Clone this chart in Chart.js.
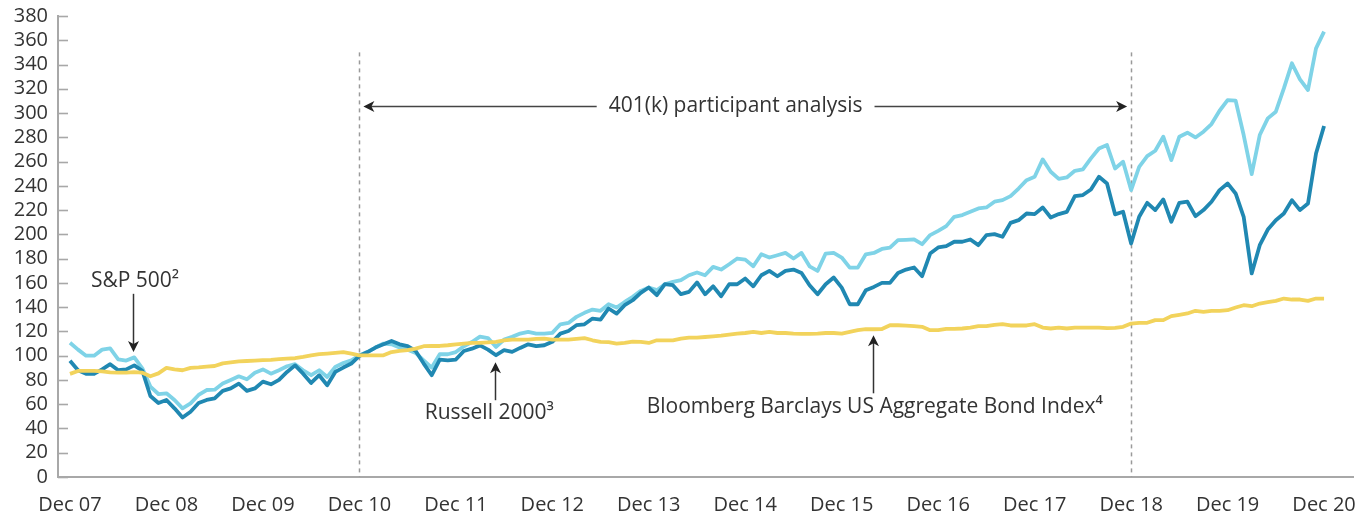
<!DOCTYPE html>
<html><head><meta charset="utf-8">
<script src="https://cdn.jsdelivr.net/npm/chart.js@4.4.1/dist/chart.umd.min.js"></script>
<style>html,body{margin:0;padding:0;background:#fff;}canvas{display:block;}</style>
</head><body>
<canvas id="c" width="1364" height="517"></canvas>
<script>
// x tick labels (one every 12 months, month index 0 = Dec 07)
const tickLabels = ['Dec 07','Dec 08','Dec 09','Dec 10','Dec 11','Dec 12','Dec 13','Dec 14','Dec 15','Dec 16','Dec 17','Dec 18','Dec 19','Dec 20'];

// S&P 500 (monthly, Dec 07 .. Dec 20, indexed Dec 10 = 100)
const sp500 = [110.7,105,100,100,105,106,97,96,98.6,89.6,74.5,68.4,69,63.5,56.6,60.7,67.6,71.7,72,77,80,83,80.5,86,88.7,
85.2,88,91.3,93,88,83.9,88,82.5,90.7,94,96.2,100.3,103,106.7,110,109.4,106.7,105,102.3,96.2,90.2,101.2,101.2,103,107.8,111.3,
115.7,114.5,107.2,113.3,115.5,118.2,119.6,118.2,118.2,118.8,125.9,127,132,135.3,138,137,142.4,139.7,144.3,148.5,153.4,156.2,154,158.9,160.8,162.2,166.3,
168.6,166.3,173.2,171,175.4,180.1,179.2,173.7,183.6,180.9,182.8,184.7,180.1,184.7,173.7,169.9,184.2,184.7,180.9,172.6,172.6,183.6,184.7,188,189.1,195.2,
195.5,195.8,191.9,199.4,202.9,206.8,214.5,215.9,218.6,221.4,222.2,226.9,228.2,231.5,237.8,244.7,247.5,261.8,251.6,245.8,246.9,252.4,253.5,262.6,270.8,273.6,
254.3,259.9,236.5,255.7,264.5,268.9,280.5,261.2,280.5,283.8,279.9,284.6,290.9,301.9,310.7,310.2,281.9,249.7,281.9,295.6,301.1,320.3,341,327.8,319,353.3,367.1];

// Russell 2000
const russell2000 = [95.9,88,85,85,88.7,93,88,88.7,92,87.6,66.8,61,63.5,56.6,49,53.8,61,63.5,64.8,71,73,77,71,73,78.6,
76.4,80.1,86.6,92,85.2,77.5,83.9,75.6,86.6,90.2,93.5,99.8,103,106.7,109.4,112.2,109.4,107.8,103.9,93.5,83.9,96.8,96.2,96.8,103.9,105.8,
108.5,105,100.4,104.5,103.1,106.4,109.4,107.8,108.6,111.4,118.2,120.4,125.1,125.9,130.6,129.8,138.9,134.7,141.6,145.7,151.8,156.2,149.9,158.9,158.1,150.7,152.6,
160.4,150.6,157.2,149,158.9,158.9,163.6,157.2,166.3,169.9,165.5,169.9,171,168.2,158.1,150.6,158.9,164.4,156.1,142.4,142.4,153.9,156.7,160,160,168.2,
171,172.7,165.5,184.2,189.2,190.3,193.9,193.9,195.8,191.1,199.4,200.2,198,209.5,211.7,217.2,216.7,222.2,213.9,216.7,218.6,231.5,232.4,237,247.5,242,
216.5,218.6,192.5,214.5,226,220,228.8,210.4,226,226.9,215,220,226.9,236.5,242,233.7,214.5,167.8,191.1,204,211.7,217.2,228.2,220,225.5,266.7,289.3];

// Bloomberg Barclays US Aggregate Bond Index
const bondIndex = [85,87.4,87.4,87.4,87,86.3,86,86,86.5,86,83,85.4,90,88.7,88,90,90.4,91,91.5,93.7,94.5,95.3,95.6,96,96.4,
96.6,97.2,97.6,97.9,99,100.3,101.2,101.7,102.3,103,101.7,100.3,100.3,100.3,100.3,103,103.9,104.5,105.8,107.8,108,108,108.6,109.4,110,110.5,
110.5,111,111.4,112.7,113.3,113.3,113.3,113.8,114.1,113.3,113.3,113.3,113.8,114.4,112.7,111.4,111.1,110,110.5,111.6,111.4,110.5,112.7,112.7,112.7,114.1,114.9,
114.9,115.4,116,116.5,117.4,118.2,118.7,119.6,118.7,119.6,118.7,118.7,118.2,117.9,117.9,118.2,118.7,118.7,118.2,119.6,121,121.8,121.8,122,125.1,125.1,
124.7,124.3,123.8,121,121,122.1,122.1,122.4,123.2,124.3,124.3,125.4,126,124.9,124.9,124.9,126,123.2,122.4,123.2,122.4,123.2,123.2,123.2,123.2,122.7,
123,123.8,126.5,127.1,127.1,129.3,129.3,132.6,133.7,134.8,137,136.2,137,137,137.5,139.7,141.6,140.8,143,144.1,145.2,147.1,146.3,146.3,145.2,147.1,147.1];

// Annotation anchors, in data units (x = month index, y = index value)
const periodBounds = [36, 132];           // Dec 10, Dec 18
const periodLabel = '401(k) participant analysis';
const periodArrowValue = 305.7;
const periodLabelX = 82.8;
const callouts = [
  {text:'S\u0026P 500\u00B2', textX:8.09, textY:161.4, arrowX:7.84, from:151, to:103},
  {text:'Russell 2000\u00B3', textX:52.15, textY:52.4, arrowX:52.9, from:63.3, to:94.6},
  {text:'Bloomberg Barclays US Aggregate Bond Index\u2074', textX:100.1, textY:57.5, arrowX:99.9, from:69, to:116.9}
];

const FONT = "'Open Sans', 'DejaVu Sans', sans-serif";
const FSIZE = 20;
const ASIZE = 21;
const TEXT = '#333333';
const AXIS = '#a8a8a8';

function toPts(arr){ return arr.map((v,i)=>({x:i,y:v})); }

function arrowHead(ctx, x, y, dir){
  const L=11, W=5.5;
  ctx.beginPath();
  if(dir==='down'){ ctx.moveTo(x,y); ctx.lineTo(x-W,y-L); ctx.lineTo(x,y-L+3); ctx.lineTo(x+W,y-L); }
  if(dir==='up'){ ctx.moveTo(x,y); ctx.lineTo(x-W,y+L); ctx.lineTo(x,y+L-3); ctx.lineTo(x+W,y+L); }
  if(dir==='left'){ ctx.moveTo(x,y); ctx.lineTo(x+L,y-W); ctx.lineTo(x+L-3,y); ctx.lineTo(x+L,y+W); }
  if(dir==='right'){ ctx.moveTo(x,y); ctx.lineTo(x-L,y-W); ctx.lineTo(x-L+3,y); ctx.lineTo(x-L,y+W); }
  ctx.closePath(); ctx.fill();
}

const annot = {
  id:'annot',
  beforeDatasetsDraw(chart){
    const {ctx, chartArea, scales:{x,y}} = chart;
    ctx.save();
    ctx.strokeStyle = AXIS; ctx.lineWidth = 1.6;
    y.ticks.forEach(t=>{
      const py = Math.round(y.getPixelForValue(t.value))+0.5;
      ctx.beginPath(); ctx.moveTo(chartArea.left, py); ctx.lineTo(chartArea.left+10, py); ctx.stroke();
    });
    ctx.strokeStyle = '#9a9a9a'; ctx.lineWidth = 1.5; ctx.setLineDash([4,4]);
    periodBounds.forEach(v=>{
      const px = Math.round(x.getPixelForValue(v))+0.5;
      ctx.beginPath(); ctx.moveTo(px, y.getPixelForValue(350)); ctx.lineTo(px, y.getPixelForValue(0)); ctx.stroke();
    });
    ctx.restore();
  },
  afterDatasetsDraw(chart){
    const {ctx, scales:{x,y}} = chart;
    ctx.save();
    ctx.font = ASIZE + 'px ' + FONT;
    ctx.fillStyle = TEXT; ctx.strokeStyle = '#444'; ctx.lineWidth = 1.5;
    ctx.textAlign = 'center'; ctx.textBaseline = 'middle';
    const ay = Math.round(y.getPixelForValue(periodArrowValue))+0.5;
    const x0 = x.getPixelForValue(periodBounds[0]) + 4;
    const x1 = x.getPixelForValue(periodBounds[1]) - 4;
    const tx = x.getPixelForValue(periodLabelX);
    const tw = ctx.measureText(periodLabel).width;
    ctx.beginPath(); ctx.moveTo(x0+6, ay); ctx.lineTo(tx - tw/2 - 12, ay);
    ctx.moveTo(tx + tw/2 + 12, ay); ctx.lineTo(x1-6, ay); ctx.stroke();
    ctx.fillStyle = '#222';
    arrowHead(ctx, x0, ay, 'left'); arrowHead(ctx, x1, ay, 'right');
    ctx.fillStyle = TEXT;
    ctx.fillText(periodLabel, tx, ay);
    callouts.forEach(c=>{
      const px = Math.round(x.getPixelForValue(c.arrowX))+0.5;
      const pf = y.getPixelForValue(c.from), pt = y.getPixelForValue(c.to);
      const dir = pt > pf ? 'down' : 'up';
      ctx.strokeStyle = '#333';
      ctx.beginPath(); ctx.moveTo(px, pf); ctx.lineTo(px, dir==='down' ? pt-6 : pt+6); ctx.stroke();
      ctx.fillStyle = '#222';
      arrowHead(ctx, px, pt, dir);
      ctx.fillStyle = TEXT;
      ctx.fillText(c.text, x.getPixelForValue(c.textX), y.getPixelForValue(c.textY));
    });
    ctx.restore();
  }
};

new Chart(document.getElementById('c'), {
  type:'line',
  data:{ datasets:[
    {label:'Bloomberg Barclays US Aggregate Bond Index', data:toPts(bondIndex), borderColor:'#F2D35C', order:0},
    {label:'Russell 2000', data:toPts(russell2000), borderColor:'#2088B2', order:1},
    {label:'S&P 500', data:toPts(sp500), borderColor:'#7FD3E7', order:2}
  ]},
  options:{
    responsive:false, animation:false, devicePixelRatio:1,
    layout:{padding:{top:16,right:11,left:0,bottom:0}},
    elements:{ line:{borderWidth:3.8, tension:0, borderJoinStyle:'round', borderCapStyle:'butt'}, point:{radius:0, hoverRadius:0} },
    plugins:{ legend:{display:false}, tooltip:{enabled:false} },
    events:[],
    scales:{
      x:{ type:'linear', min:-1.49, max:159.6,
        grid:{display:false, drawTicks:false},
        border:{display:true, color:AXIS, width:2},
        afterBuildTicks(s){ s.ticks = tickLabels.map((_,k)=>({value:k*12})); },
        afterFit(s){ s.height = 40; },
        ticks:{ autoSkip:false, maxRotation:0, padding:0, color:TEXT, font:{family:FONT, size:FSIZE, lineHeight:2.8},
          callback:(v)=>tickLabels[Math.round(v/12)] }
      },
      y:{ min:0, max:380,
        grid:{display:false, drawTicks:false},
        border:{display:true, color:AXIS, width:2},
        afterFit(s){ s.width = 58; },
        ticks:{ stepSize:20, autoSkip:false, padding:10, color:TEXT, font:{family:FONT, size:FSIZE, lineHeight:0.5} }
      }
    }
  },
  plugins:[annot]
});
</script>
</body></html>
